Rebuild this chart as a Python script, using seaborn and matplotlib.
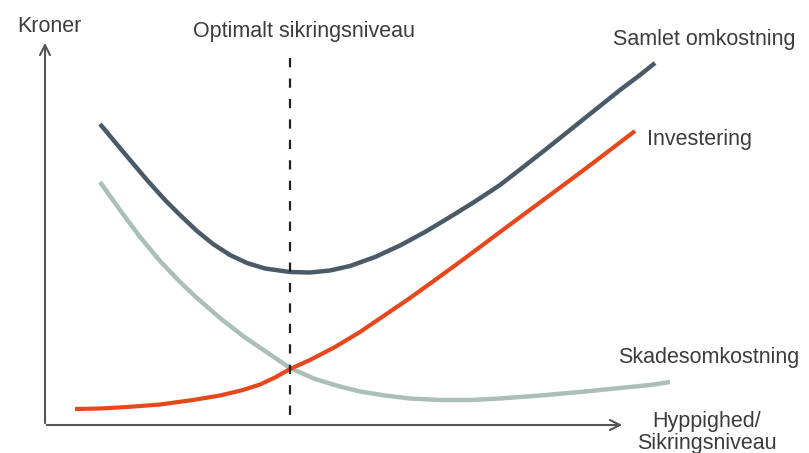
import matplotlib
matplotlib.use("Agg")
import matplotlib.pyplot as plt
import seaborn as sns

# conceptual chart: x = hyppighed/sikringsniveau, y = kroner (arbitrary units)
samlet_x = [55, 80, 102, 120, 135, 152, 168, 185, 202, 220, 245, 265, 285, 305, 330,
            355, 380, 405, 430, 455, 477, 500, 525, 550, 575, 595, 610]
samlet_y = [301, 271, 245, 225, 210, 194, 181, 170, 162, 156.5, 153, 152.5, 154.5, 159, 168,
            179.5, 193, 208, 223.5, 240, 257, 275, 295, 315, 335, 350, 362]

invest_x = [30, 55, 82, 115, 148, 175, 198, 215, 230, 245, 265, 290, 315, 340, 365,
            390, 410, 435, 455, 480, 505, 530, 550, 565, 590]
invest_y = [16, 16.5, 18, 20.5, 25, 29.5, 35, 40.5, 47.5, 56, 65, 78, 93, 110, 127,
            145, 159.5, 178, 193, 211.5, 230, 248.5, 263.5, 275, 294]

skade_x = [55, 75, 95, 115, 135, 152, 175, 198, 220, 245, 270, 295, 315, 340, 365,
           395, 425, 455, 495, 535, 575, 605, 625]
skade_y = [243, 215, 188, 164, 143, 127, 107, 89, 74, 57, 46, 38.5, 33.5, 29.5, 26.5,
           25, 25, 26.5, 29.5, 33, 37, 40, 43]

optimum_x = 245
optimum_top = 367
x_axis_end = 580
y_axis_end = 385

sns.set_style("white")
plt.rcParams['font.family'] = ['Liberation Sans', 'DejaVu Sans']

fig = plt.figure(figsize=(8.09, 4.53), dpi=100)
ax = fig.add_axes([0, 0, 1, 1])
ax.set_xlim(-45, 764)
ax.set_ylim(-28, 425)
ax.set_axis_off()

line_kw = dict(sort=False, solid_joinstyle="round", solid_capstyle="butt")
sns.lineplot(x=skade_x, y=skade_y, ax=ax, color="#a9bfb7", lw=3.2, **line_kw)
sns.lineplot(x=invest_x, y=invest_y, ax=ax, color="#e8471c", lw=3.0, **line_kw)
sns.lineplot(x=samlet_x, y=samlet_y, ax=ax, color="#4b5a67", lw=3.2, **line_kw)

ax.plot([optimum_x, optimum_x], [optimum_top, 0], color="#222222", lw=1.6,
        dashes=(4.2, 5.0))

axis_col = "#555555"
ax.annotate("", xy=(0, y_axis_end), xytext=(0, -1),
            arrowprops=dict(arrowstyle="->", color=axis_col, lw=1.5, mutation_scale=18))
ax.annotate("", xy=(x_axis_end, 0), xytext=(-1, 0),
            arrowprops=dict(arrowstyle="->", color=axis_col, lw=1.5, mutation_scale=18))

txt = dict(color="#3c3c3c", fontsize=15.5)
ax.text(-28, 399, "Kroner", ha="left", va="center", **txt)
ax.text(259, 393, "Optimalt sikringsniveau", ha="center", va="center", **txt)
ax.text(568, 385, "Samlet omkostning", ha="left", va="center", **txt)
ax.text(602, 285, "Investering", ha="left", va="center", **txt)
ax.text(573, 68, "Skadesomkostning", ha="left", va="center", **txt)
ax.text(662, 4, "Hyppighed/", ha="center", va="center", **txt)
ax.text(662, -18, "Sikringsniveau", ha="center", va="center", **txt)

fig.savefig("out.png", dpi=100)
